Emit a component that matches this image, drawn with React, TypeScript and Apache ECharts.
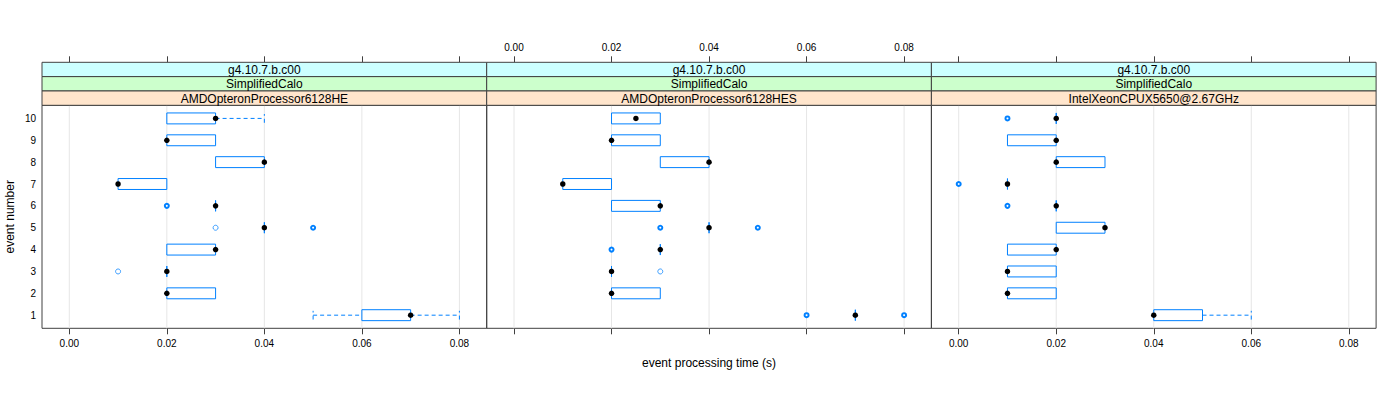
import React, { useEffect, useRef } from "react";
import * as echarts from "echarts";

// ---- data ----
const tickValues = [0, 0.02, 0.04, 0.06, 0.08];
const eventNumbers = [1, 2, 3, 4, 5, 6, 7, 8, 9, 10];
const stripVersion = ["g4.10.7.b.c00", "g4.10.7.b.c00", "g4.10.7.b.c00"];
const stripModule = ["SimplifiedCalo", "SimplifiedCalo", "SimplifiedCalo"];
const stripProcessor = [
  "AMDOpteronProcessor6128HE",
  "AMDOpteronProcessor6128HES",
  "IntelXeonCPUX5650@2.67GHz",
];

// [event, lowerWhisker, q1, median, q3, upperWhisker]
const boxesHE = [
  [1, 0.05, 0.06, 0.07, 0.07, 0.08],
  [2, 0.02, 0.02, 0.02, 0.03, 0.03],
  [3, 0.02, 0.02, 0.02, 0.02, 0.02],
  [4, 0.02, 0.02, 0.03, 0.03, 0.03],
  [5, 0.04, 0.04, 0.04, 0.04, 0.04],
  [6, 0.03, 0.03, 0.03, 0.03, 0.03],
  [7, 0.01, 0.01, 0.01, 0.02, 0.02],
  [8, 0.03, 0.03, 0.04, 0.04, 0.04],
  [9, 0.02, 0.02, 0.02, 0.03, 0.03],
  [10, 0.02, 0.02, 0.03, 0.03, 0.04],
];
const boxesHES = [
  [1, 0.07, 0.07, 0.07, 0.07, 0.07],
  [2, 0.02, 0.02, 0.02, 0.03, 0.03],
  [3, 0.02, 0.02, 0.02, 0.02, 0.02],
  [4, 0.03, 0.03, 0.03, 0.03, 0.03],
  [5, 0.04, 0.04, 0.04, 0.04, 0.04],
  [6, 0.02, 0.02, 0.03, 0.03, 0.03],
  [7, 0.01, 0.01, 0.01, 0.02, 0.02],
  [8, 0.03, 0.03, 0.04, 0.04, 0.04],
  [9, 0.02, 0.02, 0.02, 0.03, 0.03],
  [10, 0.02, 0.02, 0.025, 0.03, 0.03],
];
const boxesXeon = [
  [1, 0.04, 0.04, 0.04, 0.05, 0.06],
  [2, 0.01, 0.01, 0.01, 0.02, 0.02],
  [3, 0.01, 0.01, 0.01, 0.02, 0.02],
  [4, 0.01, 0.01, 0.02, 0.02, 0.02],
  [5, 0.02, 0.02, 0.03, 0.03, 0.03],
  [6, 0.02, 0.02, 0.02, 0.02, 0.02],
  [7, 0.01, 0.01, 0.01, 0.01, 0.01],
  [8, 0.02, 0.02, 0.02, 0.03, 0.03],
  [9, 0.01, 0.01, 0.02, 0.02, 0.02],
  [10, 0.02, 0.02, 0.02, 0.02, 0.02],
];

// [time, event, count]
const outliersHE = [
  [0.02, 6, 2],
  [0.03, 5, 1],
  [0.05, 5, 2],
  [0.01, 3, 1],
];
const outliersHES = [
  [0.03, 5, 2],
  [0.05, 5, 2],
  [0.02, 4, 2],
  [0.03, 3, 1],
  [0.06, 1, 2],
  [0.08, 1, 2],
];
const outliersXeon = [
  [0.01, 10, 2],
  [0.0, 7, 2],
  [0.01, 6, 2],
];

const panelBoxes = [boxesHE, boxesHES, boxesXeon];
const panelOutliers = [outliersHE, outliersHES, outliersXeon];

// ---- layout / style ----
const FONT = "'Liberation Sans', Arial, Helvetica, sans-serif";
const BLUE = "#0080ff";
const BORDER = "#404040";
const X_MIN = -0.0056;
const X_MAX = 0.0856;
const Y_MIN = 0.4;
const Y_MAX = 10.6;
const PANEL_LEFT = 42;
const PANEL_W = 444.7;
const PANEL_TOP = 105.3;
const PANEL_H = 223;
const STRIP_H = 14.33;
const STRIP_COLORS = ["#ccffff", "#ccffcc", "#ffe5cc"];

function boxRenderer(params: any, api: any) {
  const y = api.value(0);
  const lo = api.value(1);
  const q1 = api.value(2);
  const q3 = api.value(4);
  const hi = api.value(5);
  const h = 0.25;
  const c = 0.2;
  const p = (x: number, yy: number) => api.coord([x, yy]);
  const children: any[] = [];
  const dashStyle = { stroke: BLUE, lineWidth: 1, lineDash: [4, 3], fill: null };
  if (lo < q1) {
    const a = p(lo, y);
    const b = p(q1, y);
    children.push({ type: "line", shape: { x1: a[0], y1: a[1], x2: b[0], y2: b[1] }, style: dashStyle });
    const c1 = p(lo, y - c);
    const c2 = p(lo, y + c);
    children.push({ type: "line", shape: { x1: c1[0], y1: c1[1], x2: c2[0], y2: c2[1] }, style: dashStyle });
  }
  if (hi > q3) {
    const a = p(q3, y);
    const b = p(hi, y);
    children.push({ type: "line", shape: { x1: a[0], y1: a[1], x2: b[0], y2: b[1] }, style: dashStyle });
    const c1 = p(hi, y - c);
    const c2 = p(hi, y + c);
    children.push({ type: "line", shape: { x1: c1[0], y1: c1[1], x2: c2[0], y2: c2[1] }, style: dashStyle });
  }
  children.push({
    type: "polygon",
    shape: { points: [p(q1, y - h), p(q3, y - h), p(q3, y + h), p(q1, y + h)] },
    style: { stroke: BLUE, lineWidth: 1, fill: null },
  });
  return { type: "group", children };
}

function gridLineRenderer(params: any, api: any) {
  const v = api.value(0);
  const a = api.coord([v, Y_MIN]);
  const b = api.coord([v, Y_MAX]);
  return {
    type: "line",
    shape: { x1: a[0], y1: a[1], x2: b[0], y2: b[1] },
    style: { stroke: "#e6e6e6", lineWidth: 1 },
  };
}

export default function App() {
  const ref = useRef<HTMLDivElement>(null);
  useEffect(() => {
    if (!ref.current) return;
    const chart = echarts.init(ref.current, undefined, { renderer: "svg" });
    const grids: any[] = [];
    const xAxes: any[] = [];
    const yAxes: any[] = [];
    const series: any[] = [];
    const graphics: any[] = [];

    for (let i = 0; i < 3; i++) {
      const left = PANEL_LEFT + i * PANEL_W;
      grids.push({
        left,
        top: PANEL_TOP,
        width: PANEL_W,
        height: PANEL_H,
        show: true,
        borderColor: BORDER,
        borderWidth: 1,
        backgroundColor: "transparent",
        containLabel: false,
      });
      // bottom axis
      xAxes.push({
        gridIndex: i,
        type: "value",
        min: X_MIN,
        max: X_MAX,
        position: "bottom",
        axisLine: { show: false },
        axisTick: { show: true, customValues: tickValues, length: 6, lineStyle: { color: BORDER } },
        axisLabel: {
          show: i !== 1,
          customValues: tickValues,
          formatter: (v: number) => v.toFixed(2),
          fontSize: 10,
          color: "#000",
          margin: 10,
          fontFamily: FONT,
        },
        splitLine: { show: false },
      });
      // top axis (above strips)
      xAxes.push({
        gridIndex: i,
        type: "value",
        min: X_MIN,
        max: X_MAX,
        position: "top",
        offset: 3 * STRIP_H,
        axisLine: { show: false },
        axisTick: { show: true, customValues: tickValues, length: 6, lineStyle: { color: BORDER } },
        axisLabel: {
          show: i === 1,
          customValues: tickValues,
          formatter: (v: number) => v.toFixed(2),
          fontSize: 10,
          color: "#000",
          margin: 10,
          fontFamily: FONT,
        },
        splitLine: { show: false },
      });
      yAxes.push({
        gridIndex: i,
        type: "value",
        min: Y_MIN,
        max: Y_MAX,
        axisLine: { show: false },
        axisTick: { show: false },
        axisLabel: {
          show: i === 0,
          customValues: eventNumbers,
          fontSize: 10,
          color: "#000",
          margin: 6,
          fontFamily: FONT,
        },
        splitLine: { show: false },
      });

      series.push({
        type: "custom",
        xAxisIndex: i * 2,
        yAxisIndex: i,
        renderItem: gridLineRenderer,
        data: tickValues.map((v) => [v]),
        encode: { x: 0 },
        z: 1,
        silent: true,
      });
      series.push({
        type: "custom",
        xAxisIndex: i * 2,
        yAxisIndex: i,
        renderItem: boxRenderer,
        data: panelBoxes[i],
        encode: { x: [1, 2, 3, 4, 5], y: 0 },
        z: 2,
        silent: true,
      });
      series.push({
        type: "scatter",
        xAxisIndex: i * 2,
        yAxisIndex: i,
        symbol: "circle",
        data: panelOutliers[i].map((o) => ({
          value: [o[0], o[1]],
          symbolSize: o[2] > 1 ? 4 : 5,
          itemStyle: {
            color: "#ffffff",
            borderColor: BLUE,
            borderWidth: o[2] > 1 ? 2 : 1,
            opacity: o[2] > 1 ? 1 : 0.75,
          },
        })),
        z: 3,
        silent: true,
      });
      series.push({
        type: "scatter",
        xAxisIndex: i * 2,
        yAxisIndex: i,
        symbol: "circle",
        symbolSize: 5.5,
        itemStyle: { color: "#000", opacity: 1 },
        data: panelBoxes[i].map((r) => [r[3], r[0]]),
        z: 4,
        silent: true,
      });

      const stripTexts = [stripVersion[i], stripModule[i], stripProcessor[i]];
      for (let s = 0; s < 3; s++) {
        const top = PANEL_TOP - (3 - s) * STRIP_H;
        graphics.push({
          type: "rect",
          shape: { x: left, y: top, width: PANEL_W, height: STRIP_H },
          style: { fill: STRIP_COLORS[s], stroke: BORDER, lineWidth: 1 },
          z: 10,
        });
        graphics.push({
          type: "text",
          x: left + PANEL_W / 2,
          y: top + STRIP_H / 2 + 0.5,
          style: {
            text: stripTexts[s],
            font: `12px ${FONT}`,
            fill: "#000",
            textAlign: "center",
            textVerticalAlign: "middle",
          },
          z: 11,
        });
      }
    }

    graphics.push({
      type: "text",
      x: 10,
      y: PANEL_TOP + PANEL_H / 2,
      rotation: Math.PI / 2,
      style: {
        text: "event number",
        font: `12px ${FONT}`,
        fill: "#000",
        textAlign: "center",
        textVerticalAlign: "middle",
      },
    });
    graphics.push({
      type: "text",
      x: PANEL_LEFT + (3 * PANEL_W) / 2,
      y: 363,
      style: {
        text: "event processing time (s)",
        font: `12px ${FONT}`,
        fill: "#000",
        textAlign: "center",
        textVerticalAlign: "middle",
      },
    });

    chart.setOption({
      animation: false,
      backgroundColor: "#fff",
      textStyle: { fontFamily: FONT },
      grid: grids,
      xAxis: xAxes,
      yAxis: yAxes,
      series,
      graphic: graphics,
    });
    return () => chart.dispose();
  }, []);
  return (
    <div
      ref={ref}
      style={{ position: "absolute", left: 0, top: 0, width: 1400, height: 400 }}
    />
  );
}
